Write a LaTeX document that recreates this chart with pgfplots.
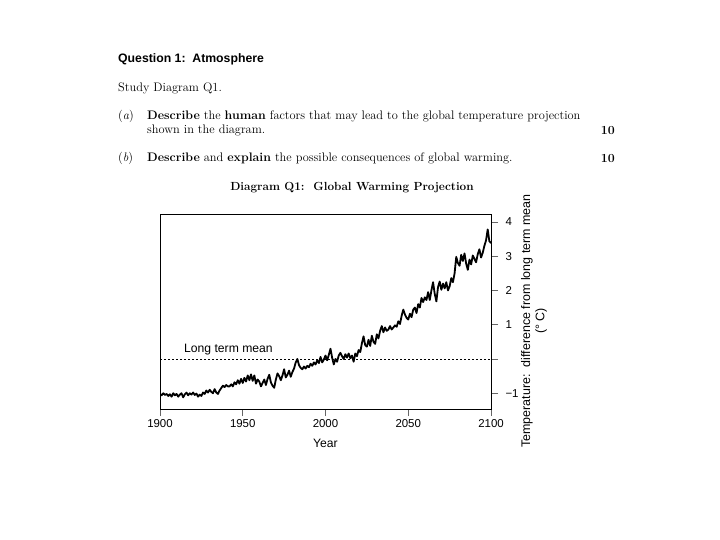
\documentclass[border=0pt]{standalone}
\usepackage{fontspec}
\setsansfont{Liberation Sans}
\usepackage{pgfplots}
\pgfplotsset{compat=1.18}
\usepackage{pgfplotstable}

% yearly projection
\pgfplotstableread{
year temp
1900 -1.02
1901 -1.06
1902 -1.00
1903 -1.05
1904 -1.02
1905 -1.08
1906 -1.03
1907 -1.10
1908 -1.00
1909 -1.06
1910 -1.02
1911 -1.10
1912 -1.04
1913 -1.00
1914 -1.12
1915 -1.03
1916 -0.98
1917 -1.06
1918 -1.00
1919 -1.04
1920 -0.98
1921 -1.05
1922 -1.01
1923 -1.10
1924 -1.04
1925 -1.08
1926 -0.98
1927 -1.02
1928 -0.92
1929 -0.98
1930 -0.90
1931 -0.96
1932 -1.00
1933 -0.88
1934 -0.98
1935 -1.02
1936 -0.92
1937 -0.85
1938 -0.78
1939 -0.82
1940 -0.76
1941 -0.80
1942 -0.80
1943 -0.74
1944 -0.80
1945 -0.68
1946 -0.74
1947 -0.62
1948 -0.72
1949 -0.58
1950 -0.70
1951 -0.55
1952 -0.66
1953 -0.48
1954 -0.62
1955 -0.45
1956 -0.64
1957 -0.48
1958 -0.72
1959 -0.60
1960 -0.66
1961 -0.80
1962 -0.70
1963 -0.60
1964 -0.76
1965 -0.58
1966 -0.46
1967 -0.68
1968 -0.78
1969 -0.84
1970 -0.60
1971 -0.42
1972 -0.50
1973 -0.62
1974 -0.48
1975 -0.30
1976 -0.54
1977 -0.46
1978 -0.34
1979 -0.52
1980 -0.38
1981 -0.28
1982 -0.10
1983 0.00
1984 -0.18
1985 -0.26
1986 -0.30
1987 -0.22
1988 -0.28
1989 -0.20
1990 -0.24
1991 -0.14
1992 -0.20
1993 -0.10
1994 -0.16
1995 -0.04
1996 -0.12
1997 0.06
1998 -0.10
1999 -0.02
2000 0.10
2001 -0.04
2002 0.12
2003 0.30
2004 0.04
2005 -0.16
2006 0.00
2007 -0.08
2008 0.10
2009 0.18
2010 0.08
2011 0.00
2012 0.14
2013 0.04
2014 0.16
2015 0.02
2016 0.10
2017 -0.08
2018 0.16
2019 0.08
2020 0.26
2021 0.20
2022 0.46
2023 0.66
2024 0.40
2025 0.36
2026 0.56
2027 0.38
2028 0.68
2029 0.50
2030 0.44
2031 0.72
2032 0.60
2033 0.82
2034 0.96
2035 0.78
2036 0.92
2037 0.82
2038 0.86
2039 0.96
2040 0.86
2041 0.92
2042 0.98
2043 0.94
2044 1.10
2045 1.02
2046 1.26
2047 1.44
2048 1.30
2049 1.20
2050 1.15
2051 1.32
2052 1.22
2053 1.44
2054 1.50
2055 1.34
2056 1.60
2057 1.50
2058 1.78
2059 1.66
2060 1.80
2061 1.72
2062 1.95
2063 1.72
2064 2.00
2065 2.24
2066 1.90
2067 1.68
2068 2.10
2069 2.26
2070 2.02
2071 2.20
2072 2.06
2073 2.24
2074 2.00
2075 2.12
2076 2.36
2077 2.24
2078 2.50
2079 2.98
2080 2.80
2081 2.72
2082 3.04
2083 2.86
2084 3.08
2085 2.78
2086 2.60
2087 2.90
2088 2.76
2089 3.02
2090 2.92
2091 2.82
2092 3.06
2093 3.20
2094 2.96
2095 3.10
2096 3.30
2097 3.46
2098 3.78
2099 3.44
2100 3.38
}\projection

\begin{document}
\begin{tikzpicture}[every node/.style={inner sep=0pt}]
  \fill[white] (0,0) rectangle (720bp,-540bp);
  \path[use as bounding box] (0,0) rectangle (720bp,-540bp);

  % question text
  \node[anchor=base west, font=\fontsize{12.3}{14}\selectfont\sffamily\bfseries] at (118bp,-62bp) {Question 1:\ \ Atmosphere};
  \node[anchor=base west, font=\fontsize{12.4}{14}\selectfont] at (118bp,-91bp) {Study Diagram Q1.};
  \node[anchor=base west, font=\fontsize{12.4}{14}\selectfont] at (118bp,-119bp) {(\textit{a})};
  \node[anchor=base west, font=\fontsize{12.4}{14}\selectfont] at (147bp,-119bp) {\textbf{Describe} the \textbf{human} factors that may lead to the global temperature projection};
  \node[anchor=base west, font=\fontsize{12.4}{14}\selectfont] at (147bp,-133bp) {shown in the diagram.};
  \node[anchor=base east, font=\fontsize{12.4}{14}\selectfont\bfseries] at (615bp,-134bp) {10};
  \node[anchor=base west, font=\fontsize{12.4}{14}\selectfont] at (118bp,-161bp) {(\textit{b})};
  \node[anchor=base west, font=\fontsize{12.4}{14}\selectfont] at (147bp,-161bp) {\textbf{Describe} and \textbf{explain} the possible consequences of global warming.};
  \node[anchor=base east, font=\fontsize{12.4}{14}\selectfont\bfseries] at (615bp,-162bp) {10};
  \node[anchor=base, font=\fontsize{11.8}{14}\selectfont\bfseries] at (352bp,-190bp) {Diagram Q1:\ \ Global Warming Projection};

  \begin{axis}[
      at={(160bp,-409bp)}, anchor=south west,
      scale only axis,
      width=331bp, height=195bp,
      xmin=1900, xmax=2100,
      ymin=-1.46, ymax=4.23,
      xtick={1900,1950,2000,2050,2100},
      ytick={-1,0,1,2,3,4},
      yticklabels={−1,,1,2,3,4},
      xtick pos=bottom, ytick pos=right,
      yticklabel pos=right,
      tick align=outside,
      major tick length=7bp,
      /pgf/number format/1000 sep={},
      /pgf/number format/assume math mode=true,
      tick label style={font=\fontsize{11.5}{13}\selectfont\sffamily, inner sep=0.3333em},
      yticklabel style={xshift=4bp},
      xlabel={Year},
      xlabel style={font=\fontsize{12.2}{14}\selectfont\sffamily, yshift=-8bp},
      axis line style={line width=0.8bp},
      tick style={line width=0.6bp, black!60},
      clip=true,
    ]
    \addplot[black, line width=1.8bp, line join=round] table[x=year, y=temp] {\projection};
    \addplot[black, line width=0.6bp, dash pattern=on 2bp off 2bp] coordinates {(1900,0) (2100,0)};
    \node[anchor=base west, font=\fontsize{12.2}{14}\selectfont\sffamily] at (axis cs:1914.5,0.2) {Long term mean};
  \end{axis}

  \node[rotate=90, align=center, font=\fontsize{12.5}{14.5}\selectfont\sffamily] at (534bp,-321bp)
    {Temperature:\ \ difference from long term mean\\(°\ C)};
\end{tikzpicture}
\end{document}
